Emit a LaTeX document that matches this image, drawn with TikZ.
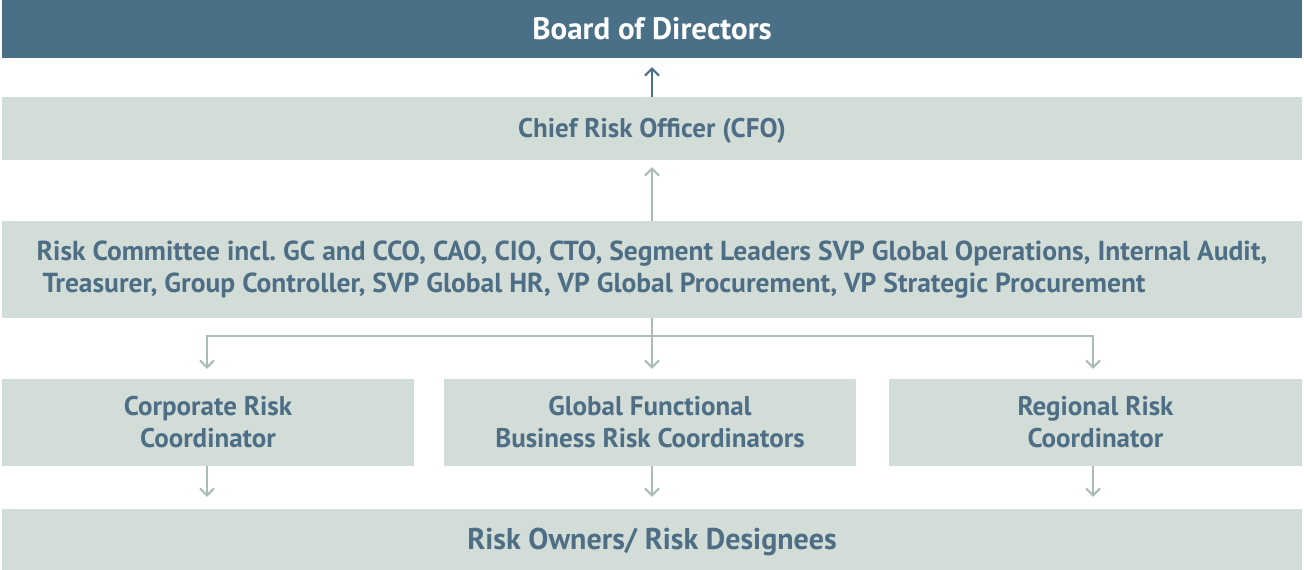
\documentclass[tikz,border=0pt]{standalone}
\usepackage{fontspec}
\setmainfont{PT Sans}
\usetikzlibrary{arrows.meta}
\definecolor{darkblue}{HTML}{4A7088}
\definecolor{lightbox}{HTML}{D3DDD8}
\definecolor{txt}{HTML}{4E6E85}
\definecolor{arr}{HTML}{A9BDB3}
\frenchspacing
\tikzset{
  box/.style={fill=lightbox, draw=none, inner sep=0pt, text=txt, font=\fontsize{27}{32}\selectfont\bfseries, align=center},
  topbox/.style={fill=darkblue, draw=none, inner sep=0pt, text=white, font=\fontsize{31}{34}\selectfont\bfseries, align=center},
  conn/.style={draw=arr, line width=2pt, -{Straight Barb[length=7pt,width=14pt,line width=2pt]}},
  connd/.style={draw=darkblue, line width=2pt, -{Straight Barb[length=7pt,width=14pt,line width=2pt]}},
  line/.style={draw=arr, line width=2pt}
}
\begin{document}
\begin{tikzpicture}[x=1pt,y=-1pt]
\useasboundingbox (0,0) rectangle (1304,570);
\node[topbox, minimum width=1300pt, minimum height=58pt, text depth=1pt] (board) at (652,29) {Board of Directors};
\node[box, minimum width=1300pt, minimum height=63pt, text depth=2pt] (cro) at (652,128.5) {Chief Risk Officer (CFO)};
\node[box, minimum width=1300pt, minimum height=97pt, align=left, font=\fontsize{27.5}{32}\selectfont\bfseries] (rc) at (652,269.5) {Risk Committee incl.\ GC and CCO, CAO, CIO, CTO, Segment Leaders SVP Global Operations, Internal Audit,\\\hspace{6pt}Treasurer, Group Controller, SVP Global HR, VP Global Procurement, VP Strategic Procurement};
\node[box, minimum width=412pt, minimum height=87pt, text depth=1pt] (crc) at (208,422.5) {Corporate Risk\\Coordinator};
\node[box, minimum width=412pt, minimum height=87pt, text depth=1pt] (gfc) at (650,422.5) {Global Functional\\Business Risk Coordinators};
\node[box, minimum width=413pt, minimum height=87pt, text depth=1pt] (rrc) at (1095.5,422.5) {Regional Risk\\Coordinator};
\node[box, minimum width=1300pt, minimum height=61pt, text depth=2pt, font=\fontsize{30}{34}\selectfont\bfseries] (ro) at (652,539.5) {Risk Owners/ Risk Designees};
\coordinate (split) at (652,336);
\coordinate (sl) at (207,336);
\coordinate (sr) at (1093,336);
\draw[connd] (cro.north -| split) -- ([yshift=-9pt]board.south -| split);
\draw[conn] (rc.north -| split) -- ([yshift=-7pt]cro.south -| split);
\draw[line] (rc.south -| split) -- (split);
\draw[conn] (split) -- ([yshift=10pt]gfc.north -| split);
\draw[conn] (split) -- (sl) -- ([yshift=10pt]crc.north -| sl);
\draw[conn] (split) -- (sr) -- ([yshift=10pt]rrc.north -| sr);
\draw[conn] (crc.south -| sl) -- ([yshift=12pt]ro.north -| sl);
\draw[conn] (gfc.south -| split) -- ([yshift=12pt]ro.north -| split);
\draw[conn] (rrc.south -| sr) -- ([yshift=12pt]ro.north -| sr);
\end{tikzpicture}
\end{document}
